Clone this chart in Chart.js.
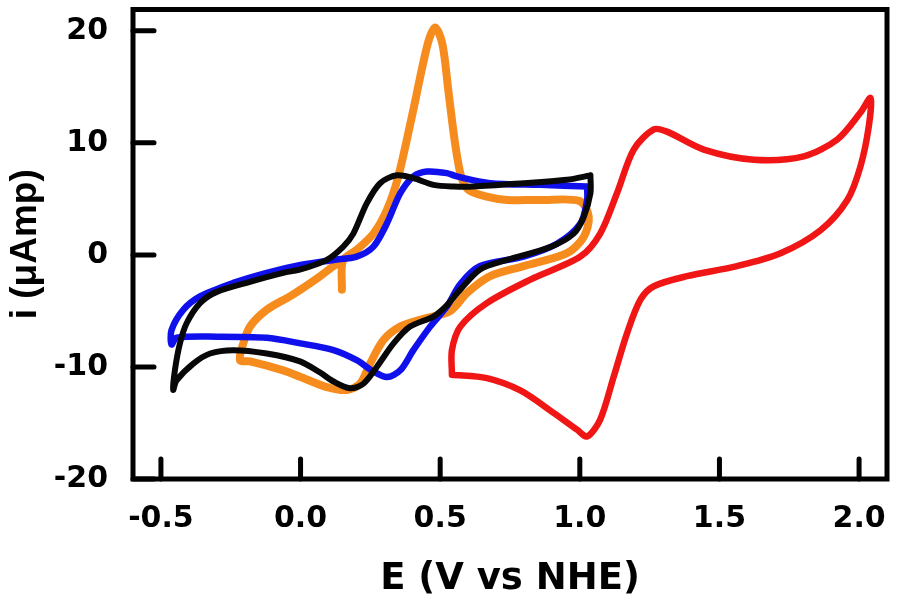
<!DOCTYPE html>
<html>
<head>
<meta charset="utf-8">
<script src="https://cdn.jsdelivr.net/npm/chart.js@4"></script>
<style>
  body { margin: 0; background: #fff; }
</style>
</head>
<body>
<canvas id="cv" width="900" height="606"></canvas>
<script>
// potential (V vs NHE) and current (uA), one pair of arrays per trace
const redE = [0.542, 0.542, 0.572, 0.667, 0.823, 1.002, 1.073, 1.133, 1.193, 1.265, 1.312, 1.444, 1.623, 1.802, 1.922, 2.005, 2.041,
  2.035, 2.005, 1.958, 1.862, 1.719, 1.563, 1.384, 1.265, 1.217, 1.169, 1.121, 1.073, 1.026, 0.990, 0.906, 0.787, 0.667, 0.542];
const redI = [-10.6, -8.5, -6.4, -4.3, -2.2, -0.15, 1.9, 5.5, 9.4, 11.2, 11.0, 9.4, 8.5, 8.8, 10.3, 12.7, 14.0,
  11.5, 7.9, 4.9, 2.2, 0.15, -1.0, -1.9, -2.8, -4.0, -7.0, -10.9, -14.7, -16.2, -15.6, -14.1, -12.1, -11.0, -10.7];

const blackE = [1.038, 1.038, 1.014, 0.978, 0.894, 0.739, 0.643, 0.572, 0.520, 0.476, 0.392, 0.333, 0.273, 0.225, 0.177, 0.118, 0.070,
  -0.002, -0.121, -0.241, -0.324, -0.384, -0.444, -0.456, -0.450, -0.432, -0.408, -0.360, -0.300, -0.181, -0.062, 0.000, 0.094,
  0.153, 0.189, 0.237, 0.285, 0.345, 0.404, 0.476, 0.548, 0.619, 0.799, 0.954, 1.038];
const blackI = [7.1, 5.5, 3.4, 1.9, 0.7, -0.45, -1.3, -3.1, -4.6, -5.5, -6.4, -7.9, -10.0, -11.5, -11.9, -11.3, -10.5,
  -9.5, -8.8, -8.5, -8.8, -9.7, -11.2, -12.05, -10.3, -7.9, -6.1, -4.3, -3.3, -2.4, -1.6, -1.3, -0.45,
  0.74, 1.9, 4.6, 6.4, 7.1, 6.85, 6.25, 6.1, 6.1, 6.4, 6.7, 7.1];

const blueE = [1.026, 1.026, 1.002, 0.918, 0.799, 0.643, 0.572, 0.524, 0.464, 0.404, 0.357, 0.309, 0.261, 0.201, 0.118, 0.000,
  -0.121, -0.300, -0.444, -0.462, -0.462, -0.420, -0.360, -0.241, -0.121, 0.000, 0.118, 0.201, 0.261, 0.309, 0.357, 0.404,
  0.452, 0.524, 0.560, 0.679, 0.858, 1.026];
const blueI = [6.1, 4.9, 2.8, 1.0, -0.15, -1.0, -2.6, -4.6, -6.4, -8.5, -10.3, -10.9, -10.4, -9.4, -8.5, -7.9,
  -7.4, -7.3, -7.4, -8.0, -6.7, -4.9, -3.7, -2.5, -1.6, -0.9, -0.45, -0.15, 0.74, 2.8, 5.5, 7.0,
  7.44, 7.3, 7.0, 6.4, 6.25, 6.1];

const orangeE = [0.148, 0.152, 0.201, 0.261, 0.309, 0.350, 0.400, 0.455, 0.482, 0.508, 0.530, 0.553, 0.575, 0.601,
  0.667, 0.739, 0.858, 1.000, 1.032, 1.014, 0.954, 0.799, 0.679, 0.596, 0.536, 0.428, 0.357, 0.297, 0.249, 0.213, 0.166,
  0.094, 0.000, -0.062, -0.181, -0.217, -0.205, -0.181, -0.121, -0.038, 0.000, 0.070, 0.118, 0.160];
const orangeI = [-3.1, -0.5, 0.45, 1.9, 4.0, 7.0, 12.5, 18.8, 20.3, 18.8, 14.5, 10.0, 7.0, 5.8,
  5.2, 4.9, 4.9, 4.8, 3.4, 1.6, 0.15, -1.0, -1.9, -3.4, -5.0, -5.8, -6.4, -7.6, -9.7, -11.5, -12.05,
  -11.8, -10.9, -10.3, -9.5, -9.4, -7.9, -6.4, -4.9, -3.7, -3.1, -1.9, -1.0, -0.3];

const xTicks = [-0.5, 0, 0.5, 1.0, 1.5, 2.0];
const xTickLabels = ['-0.5', '0.0', '0.5', '1.0', '1.5', '2.0'];
const yTicks = [-20, -10, 0, 10, 20];
const yTickLabels = ['-20', '-10', '0', '10', '20'];

const pts = (xs, ys) => xs.map((v, i) => ({x: v, y: ys[i]}));

function trace(data, color, width, order) {
  return {
    data: data,
    showLine: true,
    borderColor: color,
    borderWidth: width,
    pointRadius: 0,
    tension: 0.3,
    borderJoinStyle: 'round',
    borderCapStyle: 'round',
    order: order
  };
}

// box around the plot plus the inward tick marks
const frame = {
  id: 'frame',
  afterDatasetsDraw(chart) {
    const {ctx, chartArea: a, scales} = chart;
    ctx.save();
    ctx.strokeStyle = '#000';
    ctx.lineWidth = 5;
    ctx.lineCap = 'round';
    ctx.beginPath();
    xTicks.forEach(v => {
      const px = scales.x.getPixelForValue(v);
      ctx.moveTo(px, a.bottom);
      ctx.lineTo(px, a.bottom - 20);
    });
    yTicks.forEach(v => {
      const py = scales.y.getPixelForValue(v);
      ctx.moveTo(a.left, py);
      ctx.lineTo(a.left + 21, py);
    });
    ctx.stroke();
    ctx.lineCap = 'butt';
    ctx.lineJoin = 'miter';
    ctx.strokeRect(a.left, a.top, a.right - a.left, a.bottom - a.top);
    ctx.restore();
  }
};

// fixed axis sizes, and no extra room for labels hanging over the ends
function fixSize(s, w, h) {
  if (w) s.width = w;
  if (h) s.height = h;
  s.paddingTop = 0;
  s.paddingBottom = 0;
  s.paddingLeft = 0;
  s.paddingRight = 0;
}

const tickFont = {family: 'DejaVu Sans', weight: 'bold', size: 30};

new Chart(document.getElementById('cv'), {
  type: 'scatter',
  data: {
    datasets: [
      trace(pts(redE, redI), 'rgb(240,22,22)', 6.5, 4),
      trace(pts(orangeE, orangeI), 'rgb(247,140,30)', 8, 3),
      trace(pts(blueE, blueI), 'rgb(16,16,236)', 6.5, 2),
      trace(pts(blackE, blackI), 'rgb(8,8,8)', 6, 1)
    ]
  },
  options: {
    responsive: false,
    animation: false,
    layout: {padding: {left: 0, top: 9.5, right: 13, bottom: 0}},
    plugins: {legend: {display: false}, tooltip: {enabled: false}},
    scales: {
      x: {
        type: 'linear',
        min: -0.6,
        max: 2.1,
        grid: {display: false, drawTicks: false},
        border: {display: false},
        afterBuildTicks: s => { s.ticks = xTicks.map(v => ({value: v})); },
        afterFit: s => fixSize(s, 0, 127),
        ticks: {
          color: '#000',
          font: tickFont,
          padding: 22,
          maxRotation: 0,
          autoSkip: false,
          callback: (v, i) => xTickLabels[i]
        },
        title: {
          display: true,
          text: 'E (V vs NHE)',
          color: '#000',
          font: {family: 'DejaVu Sans', weight: 'bold', size: 37},
          padding: {top: 0, bottom: 4}
        }
      },
      y: {
        type: 'linear',
        min: -20,
        max: 21.9,
        grid: {display: false, drawTicks: false},
        border: {display: false},
        afterBuildTicks: s => { s.ticks = yTicks.map(v => ({value: v})); },
        afterFit: s => fixSize(s, 133, 0),
        ticks: {
          color: '#000',
          font: tickFont,
          padding: 25,
          autoSkip: false,
          callback: (v, i) => yTickLabels[i]
        },
        title: {
          display: true,
          text: 'i (\u03bcAmp)',
          color: '#000',
          font: {family: 'Liberation Sans', weight: 'bold', size: 37},
          padding: {top: 4, bottom: 0}
        }
      }
    }
  },
  plugins: [frame]
});
</script>
</body>
</html>
